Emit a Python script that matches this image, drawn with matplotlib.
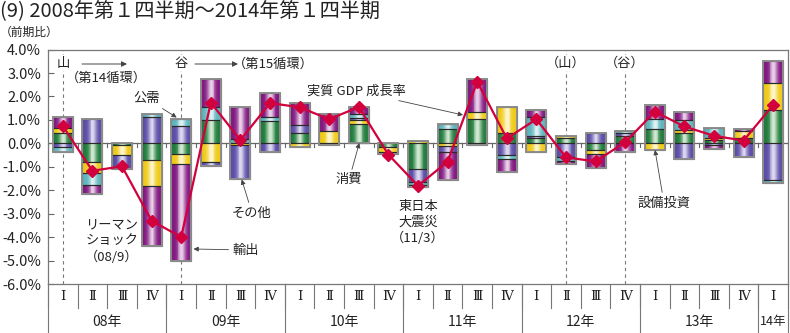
import matplotlib
matplotlib.use('Agg')
import matplotlib.pyplot as plt
import matplotlib.transforms as mtransforms
import numpy as np
from matplotlib.colors import to_rgb

plt.rcParams['font.family'] = ['Noto Sans CJK JP', 'DejaVu Sans']

# ---------------- data ----------------
quarter_labels = ['Ⅰ', 'Ⅱ', 'Ⅲ', 'Ⅳ'] * 6 + ['Ⅰ']
year_labels = ['08年', '09年', '10年', '11年', '12年', '13年', '14年']
year_quarters = [4, 4, 4, 4, 4, 4, 1]

gdp_growth = [0.74, -1.17, -0.98, -3.30, -4.00, 1.74, 0.14, 1.72, 1.54, 1.03,
              1.55, -0.48, -1.81, -0.78, 2.63, 0.21, 1.03, -0.60, -0.77, 0.05,
              1.35, 0.72, 0.32, 0.12, 1.64]

consumption = [0.45, -0.79, -0.07, -0.70, -0.47, 1.00, 0.00, 0.97, 0.43, 0.00,
               0.82, -0.17, -1.10, 0.60, 1.03, 0.43, 0.21, 0.21, -0.28, 0.33,
               0.61, 0.43, 0.14, 0.22, 1.42]
capex = [0.19, -0.49, -0.43, -1.12, -0.41, -0.78, -0.06, 0.00, -0.17, 0.53,
         0.18, -0.19, 0.11, -0.10, 0.29, 1.11, -0.38, 0.10, -0.17, 0.00,
         -0.28, 0.14, 0.07, 0.30, 1.14]
other = [-0.17, 1.03, -0.60, 1.11, 0.74, -0.19, -1.44, -0.38, 0.35, -0.08,
         0.10, -0.11, -0.54, -0.28, 0.00, -0.50, 0.10, -0.60, 0.43, 0.10,
         0.00, -0.68, -0.08, -0.57, -1.57]
public_demand = [-0.21, -0.50, 0.00, 0.14, 0.29, 0.54, 0.20, 0.14, 0.00, 0.00,
                 0.14, 0.00, -0.14, 0.22, -0.07, -0.18, 0.83, -0.16, 0.00, 0.11,
                 0.42, 0.43, 0.43, 0.00, -0.11]
exports = [0.47, -0.40, 0.00, -2.58, -4.12, 1.20, 1.34, 1.05, 0.96, 0.71,
           0.30, 0.00, -0.10, -1.20, 1.43, -0.53, 0.28, -0.12, -0.62, -0.38,
           0.61, 0.32, -0.18, 0.10, 0.97]

series = [consumption, capex, other, public_demand, exports]
series_edge = ['#1E7A3A', '#EFC914', '#5A4BA6', '#5CB3BC', '#80167F']
series_center = ['#EAF8E6', '#FFFCE6', '#EEEBFA', '#F0FBFB', '#F7E8F7']

cycle_points = [0, 4, 17, 19]

# ---------------- figure ----------------
W, H = 790, 333
fig = plt.figure(figsize=(W / 100, H / 100), dpi=100)
ax_left, ax_right, ax_top, ax_bot = 48, 788, 49.6, 284
ax = fig.add_axes([ax_left / W, 1 - ax_bot / H, (ax_right - ax_left) / W, (ax_bot - ax_top) / H])

n = len(gdp_growth)
x = np.arange(n)
bw = 0.68
nstrip = 22
t = (np.arange(nstrip) + 0.5) / nstrip
profile = 0.88 * np.exp(-((t - 0.52) / 0.19) ** 2) + 0.12 * np.exp(-((t - 0.0) / 0.06) ** 2) \
          + 0.12 * np.exp(-((t - 1.0) / 0.06) ** 2)
strip_w = bw / nstrip
offsets = (t - 0.5) * bw

ax.axhline(0, color='#666666', lw=0.9, zorder=1)
# small ticks at quarter boundaries on zero line
for b in np.arange(n + 1) - 0.5:
    ax.plot([b, b], [0, -0.16], color='#666666', lw=0.8, zorder=1)

for i in range(n):
    pos, neg = 0.0, 0.0
    for vals, ec, cc in zip(series, series_edge, series_center):
        v = vals[i]
        if v == 0:
            continue
        if v > 0:
            bottom = pos
            pos += v
        else:
            neg += v
            bottom = neg
        h = abs(v)
        e = np.array(to_rgb(ec))
        c = np.array(to_rgb(cc))
        cols = [tuple(e + (c - e) * p) for p in profile]
        ax.bar(x[i] + offsets, h, bottom=bottom, width=strip_w * 1.02, color=cols,
               linewidth=0, zorder=2)
        ax.bar(x[i], h, bottom=bottom, width=bw, facecolor='none', edgecolor='#2a2a2a',
               linewidth=0.8, zorder=3)
    ax.bar(x[i], pos - neg, bottom=neg, width=bw, facecolor='none', edgecolor='#8c8c8c',
           linewidth=1.4, zorder=4)

ax.plot(x, gdp_growth, color='#D2003C', lw=1.6, marker='D', markersize=6.5,
        markerfacecolor='#D2003C', markeredgecolor='#D2003C', zorder=6)

# dashed cycle lines
for cp in cycle_points:
    ax.axvline(cp, color='#777777', lw=0.8, ls=(0, (3, 3)), zorder=0.5)

ax.set_xlim(-0.5, n - 0.5)
ax.set_ylim(-6, 4)
yt = np.arange(-6, 5, 1)
ax.set_yticks(yt)
ax.set_yticklabels([f'{v:.1f}%' for v in yt], fontsize=10.5, color='#222222')
ax.tick_params(axis='y', direction='in', length=4, width=0.8, color='#666666', pad=5)
ax.set_xticks([])
for s in ax.spines.values():
    s.set_color('#777777')
    s.set_linewidth(0.9)

# ---------------- category table below ----------------
trans = mtransforms.blended_transform_factory(ax.transData, ax.transAxes)
ah = ax_bot - ax_top
row1 = -(308 - ax_bot) / ah
row2 = -(H - ax_bot) / ah
for b in np.arange(n + 1) - 0.5:
    ax.plot([b, b], [0, row1], color='#777777', lw=0.8, transform=trans, clip_on=False)
yb = np.concatenate([[0], np.cumsum(year_quarters)]) - 0.5
for b in yb:
    ax.plot([b, b], [0, row2], color='#777777', lw=0.8, transform=trans, clip_on=False)
for i, q in enumerate(quarter_labels):
    ax.text(x[i], -(297 - ax_bot) / ah, q, transform=trans, ha='center', va='center',
            fontsize=9.5, color='#222222', family=['DejaVu Serif', 'Noto Sans CJK JP'])
start = 0
for lab, nq in zip(year_labels, year_quarters):
    cx = start + (nq - 1) / 2
    ax.text(cx, -(322 - ax_bot) / ah, lab, transform=trans, ha='center', va='center',
            fontsize=10 if nq > 1 else 9, color='#222222')
    start += nq

# ---------------- titles ----------------
fig.text(0.0, 1 - 12 / H, '(9) 2008年第１四半期～2014年第１四半期', ha='left', va='center',
         fontsize=14.5, color='#222222')
fig.text(0.0, 1 - 32 / H, '（前期比）', ha='left', va='center', fontsize=8.5, color='#222222')

# ---------------- cycle annotations ----------------
def px2x(px):
    return (px - ax_left) / ((ax_right - ax_left) / n) - 0.5

def py2y(py):
    return 4 - (py - ax_top) / (ah / 10)

fs = 9.5
txtc = '#222222'
for lab, cx in [('山', 0), ('谷', 4)]:
    ax.text(cx, py2y(63), lab, ha='center', va='center', fontsize=fs, color=txtc,
            bbox=dict(facecolor='white', edgecolor='none', pad=1), zorder=7)
for lab, cx in [('（山）', 17), ('（谷）', 19)]:
    ax.text(cx, py2y(63), lab, ha='center', va='center', fontsize=fs, color=txtc,
            bbox=dict(facecolor='white', edgecolor='none', pad=1), zorder=7)
arrow_kw = dict(arrowstyle='-|>', color='#444444', lw=0.7, mutation_scale=8,
                shrinkA=0, shrinkB=0)
ax.annotate('', xy=(px2x(127), py2y(64)), xytext=(px2x(82), py2y(64)), arrowprops=arrow_kw)
ax.annotate('', xy=(px2x(238), py2y(64)), xytext=(px2x(195), py2y(64)), arrowprops=arrow_kw)
ax.text(px2x(66), py2y(78), '（第14循環）', ha='left', va='center', fontsize=fs, color=txtc)
ax.text(px2x(233), py2y(64), '（第15循環）', ha='left', va='center', fontsize=fs, color=txtc)

ann_kw = dict(arrowstyle='-|>', color='#444444', lw=0.6, mutation_scale=7, shrinkA=1, shrinkB=0)
ax.annotate('公需', xy=(px2x(176.7), py2y(117.5)), xytext=(px2x(146.5), py2y(98.5)),
            ha='center', va='center', fontsize=fs, color=txtc, arrowprops=ann_kw, zorder=8)
ax.annotate('実質 GDP 成長率', xy=(px2x(463), py2y(115)), xytext=(px2x(356), py2y(91)),
            ha='center', va='center', fontsize=fs, color=txtc, arrowprops=ann_kw, zorder=8)
ax.annotate('消費', xy=(px2x(359.3), py2y(143)), xytext=(px2x(349), py2y(180)),
            ha='center', va='center', fontsize=fs, color=txtc, arrowprops=ann_kw, zorder=8)
ax.annotate('その他', xy=(px2x(241.7), py2y(179.5)), xytext=(px2x(252), py2y(213)),
            ha='center', va='center', fontsize=fs, color=txtc, arrowprops=ann_kw, zorder=8)
ax.annotate('輸出', xy=(px2x(193.5), py2y(249)), xytext=(px2x(246), py2y(250)),
            ha='center', va='center', fontsize=fs, color=txtc, arrowprops=ann_kw, zorder=8)
ax.annotate('設備投資', xy=(px2x(655), py2y(150)), xytext=(px2x(664), py2y(203)),
            ha='center', va='center', fontsize=fs, color=txtc, arrowprops=ann_kw, zorder=8)
ax.text(px2x(112), py2y(241), 'リーマン\nショック\n（08/9）', ha='center', va='center',
        fontsize=fs, color=txtc, linespacing=1.3, zorder=8)
ax.text(px2x(418), py2y(222.3), '東日本\n大震災\n（11/3）', ha='center', va='center',
        fontsize=fs, color=txtc, linespacing=1.3, zorder=8)

fig.savefig('out.png', dpi=100)
